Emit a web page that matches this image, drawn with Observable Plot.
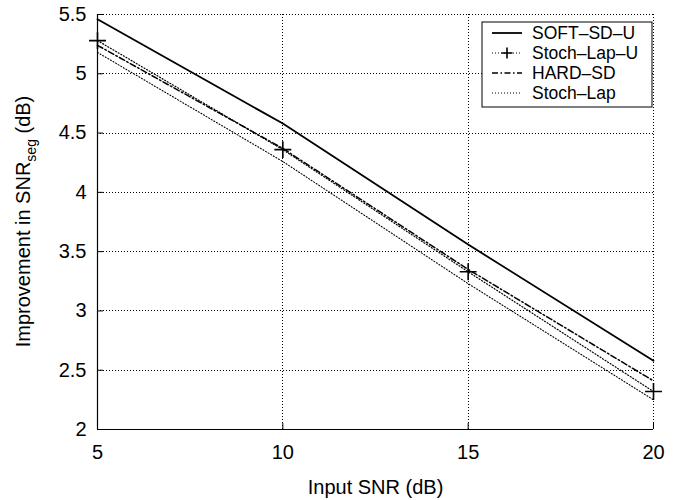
<!DOCTYPE html>
<html><head><meta charset="utf-8">
<script src="https://cdn.jsdelivr.net/npm/d3@7"></script>
<script src="https://cdn.jsdelivr.net/npm/@observablehq/plot@0.6"></script>
<style>
body{margin:0;background:#fff}
#chart{position:relative;width:680px;height:500px}
</style>
</head><body><div id="chart"></div>
<script>
// ---- data ----
const inputSNR = [5, 10, 15, 20];
const softSDU   = [5.46, 4.58, 3.56, 2.58];
const stochLapU = [5.28, 4.36, 3.33, 2.32];
const hardSD    = [5.24, 4.37, 3.35, 2.41];
const stochLap  = [5.18, 4.26, 3.23, 2.25];
const seriesNames = ["SOFT\u2013SD\u2013U", "Stoch\u2013Lap\u2013U", "HARD\u2013SD", "Stoch\u2013Lap"];
const xTicks = [5, 10, 15, 20];
const yTicks = [2, 2.5, 3, 3.5, 4, 4.5, 5, 5.5];
const yTickLabels = ["2", "2.5", "3", "3.5", "4", "4.5", "5", "5.5"];
const xLabel = "Input SNR (dB)";

const seriesValues = [softSDU, stochLapU, hardSD, stochLap];
const table = seriesValues.flatMap((vals, s) =>
  inputSNR.map((x, i) => ({series: seriesNames[s], x, y: vals[i]})));

const styles = {
  [seriesNames[0]]: {strokeWidth: 1.8, strokeDasharray: null},
  [seriesNames[1]]: {strokeWidth: 1.2, strokeDasharray: "1,2"},
  [seriesNames[2]]: {strokeWidth: 1.5, strokeDasharray: "6,2.5,1.5,2.5"},
  [seriesNames[3]]: {strokeWidth: 1.1, strokeDasharray: "1,2"}
};

const FONT = "Liberation Sans, Arial, Helvetica, sans-serif";
const W = 680, H = 500;
const mL = 97, mR = 27, mT = 14, mB = 71;
const tickLen = 6;
const innerW = W - mL - mR, innerH = H - mT - mB;

const lineMarks = seriesNames.map(name =>
  Plot.line(table.filter(d => d.series === name), {
    x: "x", y: "y", stroke: "#000",
    strokeWidth: styles[name].strokeWidth,
    strokeDasharray: styles[name].strokeDasharray
  }));

const svg = Plot.plot({
  width: W, height: H,
  marginLeft: mL, marginRight: mR, marginTop: mT, marginBottom: mB,
  style: {fontFamily: FONT, fontSize: "20px"},
  x: {domain: [xTicks[0], xTicks[xTicks.length - 1]]},
  y: {domain: [yTicks[0], yTicks[yTicks.length - 1]]},
  marks: [
    ...lineMarks,
    Plot.dot(table.filter(d => d.series === seriesNames[1]), {
      x: "x", y: "y", symbol: "plus", r: 5.5, stroke: "#000", strokeWidth: 1.6
    }),
    Plot.ruleX(xTicks, {x: d => d, stroke: "#000", insetTop: innerH - tickLen}),
    Plot.ruleY(yTicks, {y: d => d, stroke: "#000", insetRight: innerW - tickLen}),
    Plot.ruleX([xTicks[0]], {stroke: "#000", strokeWidth: 1.2}),
    Plot.ruleY([yTicks[0]], {stroke: "#000", strokeWidth: 1.2}),
    Plot.axisX(xTicks, {tickSize: 0, tickPadding: 15, label: null, fontSize: 20}),
    Plot.axisY(yTicks, {tickSize: 0, tickPadding: 11, label: null, fontSize: 20,
      tickFormat: d => yTickLabels[yTicks.indexOf(d)]}),
    Plot.text([xLabel], {frameAnchor: "bottom", dy: 58, fontSize: 20, lineAnchor: "middle", fill: "#000"})
  ]
});

const root = d3.select(svg);
const sx = svg.scale("x"), sy = svg.scale("y");
const x0 = sx.apply(xTicks[0]), x1 = sx.apply(xTicks[xTicks.length - 1]);
const y0 = sy.apply(yTicks[0]), y1 = sy.apply(yTicks[yTicks.length - 1]);

// dotted grid through Plot's own scales
const grid = root.append("g").attr("stroke", "#000").attr("stroke-width", 1)
  .attr("stroke-dasharray", "1,2").attr("fill", "none");
xTicks.slice(1).forEach(v => {
  const px = Math.round(sx.apply(v)) + 0.5;
  grid.append("line").attr("x1", px).attr("x2", px).attr("y1", y1).attr("y2", y0);
});
yTicks.slice(1).forEach(v => {
  const py = Math.round(sy.apply(v)) + 0.5;
  grid.append("line").attr("x1", x0).attr("x2", x1).attr("y1", py).attr("y2", py);
});

const yl = root.append("text")
  .attr("transform", `translate(30,${mT + innerH / 2}) rotate(-90)`)
  .attr("text-anchor", "middle")
  .attr("font-family", FONT).attr("font-size", 20).attr("fill", "#000");
yl.append("tspan").text("Improvement in SNR");
yl.append("tspan").text("seg").attr("font-size", 14).attr("dy", 6);
yl.append("tspan").text(" (dB)").attr("dy", -6);

const lg = root.append("g").attr("font-family", FONT).attr("font-size", 17.5).attr("text-anchor", "start");
lg.append("rect").attr("x", 482).attr("y", 22).attr("width", 170).attr("height", 85)
  .attr("fill", "#fff").attr("stroke", "#000").attr("stroke-width", 1);
seriesNames.forEach((name, i) => {
  const cy = 33 + i * 20;
  lg.append("line").attr("x1", 492).attr("x2", 522).attr("y1", cy).attr("y2", cy)
    .attr("stroke", "#000").attr("stroke-width", styles[name].strokeWidth)
    .attr("stroke-dasharray", styles[name].strokeDasharray);
  if (i === 1) {
    lg.append("path").attr("d", `M501.5,${cy}h11M507,${cy - 5.5}v11`)
      .attr("stroke", "#000").attr("stroke-width", 1.6);
  }
  lg.append("text").attr("x", 532).attr("y", cy).attr("dy", "0.35em")
    .attr("text-anchor", "start").attr("fill", "#000").text(name);
});

document.getElementById("chart").appendChild(svg);
</script>
</body></html>
